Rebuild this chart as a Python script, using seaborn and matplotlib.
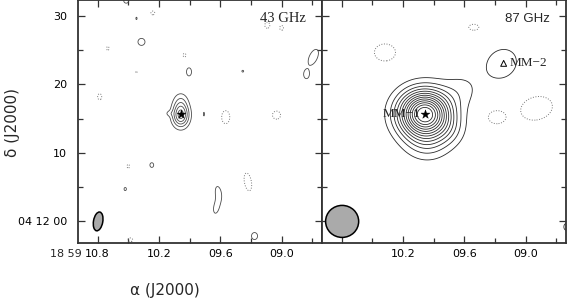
import numpy as np
import pandas as pd
import matplotlib
matplotlib.use("Agg")
import matplotlib.pyplot as plt
import seaborn as sns
from matplotlib.patches import Ellipse
from matplotlib.transforms import Affine2D

# ---------------- axis ticks / labels ----------------
ra_ticks = [10.8, 10.2, 9.6, 9.0]
ra_minor = [10.5, 9.9, 9.3, 8.7]
ra_labels_left = ["10.8", "10.2", "09.6", "09.0"]
ra_labels_right = ["", "10.2", "09.6", "09.0"]
ra_prefix = "18 59"
dec_ticks = [0, 10, 20, 30]
dec_minor = [5, 15, 25]
dec_labels = ["04 12 00", "10", "20", "30"]
ra_lim = (10.992, 8.605)
dec_lim = (-3.27, 32.4)

# ---------------- sources / markers ----------------
mm_names = ["MM\u22121", "MM\u22122"]
mm_ra = [9.987, 9.215]
mm_dec = [15.7, 23.1]
mm_marker = ["*", "^"]

panel_titles = ["43 GHz", "87 GHz"]

# 43 GHz emission components: RA (s), Dec offset ("), amplitude (contour units), sigma_u ("), sigma_v ("), pa (deg)
c43_ra  = [9.987, 9.987, 10.104, 10.371, 9.906, 8.69, 8.757, 10.52, 9.38, 9.76, 10.27, 10.53, 9.62, 9.64, 9.265, 10.42,
           10.78, 10.70, 10.42, 9.95, 10.26, 9.14, 9.00, 9.547, 9.05, 10.50, 10.48, 9.33]
c43_dec = [15.5, 17.6, 15.75, 26.25, 21.85, 24.0, 21.4, 32.3, 21.95, 15.65, 8.17, 4.65, 4.2, 1.9, -2.25, 29.7,
           18.2, 25.3, 21.85, 24.3, 30.5, 28.7, 28.3, 15.2, 15.5, 8.0, -2.8, 5.7]
c43_amp = [5.4, 1.4, 0.8, 1.35, 1.35, 1.35, 1.35, 1.35, 1.1, 1.15, 1.3, 1.2, 1.3, 1.3, 1.35, 1.1,
           -1.35, -1.2, -1.1, -1.3, -1.3, -1.35, -1.3, -1.35, -1.35, -1.2, -1.3, -1.35]
c43_su  = [0.85, 0.8, 0.45, 0.66, 0.47, 0.76, 0.38, 0.47, 0.3, 0.15, 0.38, 0.28, 0.5, 0.5, 0.57, 0.2,
           0.38, 0.28, 0.2, 0.28, 0.38, 0.47, 0.38, 0.76, 0.76, 0.28, 0.47, 0.66]
c43_sv  = [1.2, 1.0, 0.3, 0.66, 0.76, 1.6, 0.57, 0.47, 0.3, 0.5, 0.47, 0.38, 1.1, 1.1, 0.66, 0.4,
           0.57, 0.47, 0.28, 0.38, 0.38, 0.57, 0.47, 1.23, 0.76, 0.47, 0.38, 1.7]
c43_pa  = [0, 0, 0, 0, 0, -25, 0, 0, 0, 0, 0, 0, 10, -10, 0, 0,
           0, 0, 0, 0, 0, 0, 0, 0, 0, 0, 0, 10]
lev43 = [1, 2, 3, 4, 5]

# 87 GHz emission components
c87_ra  = [9.987, 9.96, 9.74, 9.62, 9.234, 8.60, 10.376, 9.507, 8.893, 9.283]
c87_dec = [15.7, 11.6, 13.2, 19.3, 23.05, -0.9, 24.7, 28.4, 16.5, 15.2]
c87_amp = [14.0, 2.0, 1.0, 1.1, 1.7, 1.35, -2.0, -2.0, -2.0, -2.0]
c87_su  = [2.55, 2.3, 1.6, 2.0, 2.2, 0.5, 1.31, 0.62, 2.0, 1.06]
c87_sv  = [2.3, 2.0, 1.6, 1.9, 1.9, 0.66, 1.06, 0.37, 1.43, 0.81]
c87_pa  = [0, 0, 0, 0, 40, 0, 0, 0, 15, 0]
lev87 = list(range(1, 14))

# beams: major/minor in arcsec, pa
beam_w = [1.36, 4.84]
beam_h = [2.79, 4.70]
beam_pa = [10, 0]
beam_ra = 10.795
beam_dec = -0.1

KX = 15 * np.cos(np.deg2rad(4.2))  # arcsec per second of RA


def make_field(X, Y, ra, dec, amp, su, sv, pa):
    Z = np.zeros_like(X)
    for r, d, a, s1, s2, p in zip(ra, dec, amp, su, sv, pa):
        du = (r - X) * KX
        dv = Y - d
        t = np.deg2rad(p)
        u = du * np.cos(t) + dv * np.sin(t)
        v = -du * np.sin(t) + dv * np.cos(t)
        Z += a * np.exp(-0.5 * ((u / s1) ** 2 + (v / s2) ** 2))
    return Z


sns.set_theme(style="ticks")
plt.rcParams["font.family"] = ["DejaVu Sans"]

xs = np.linspace(8.55, 11.05, 700)
ys = np.linspace(-4.0, 33.0, 700)
X, Y = np.meshgrid(xs, ys)

fig = plt.figure(figsize=(5.67, 3.0), dpi=100)
W, H = 567.0, 300.0
axL = fig.add_axes([78 / W, (H - 243) / H, 244 / W, 243 / H])
axR = fig.add_axes([322 / W, (H - 243) / H, 244 / W, 243 / H])

fields = [make_field(X, Y, c43_ra, c43_dec, c43_amp, c43_su, c43_sv, c43_pa),
          make_field(X, Y, c87_ra, c87_dec, c87_amp, c87_su, c87_sv, c87_pa)]
levels = [lev43, lev87]
pos_col = ["#4a4a4a", "#2a2a2a"]

markers = pd.DataFrame({"ra": mm_ra, "dec": mm_dec, "name": mm_names, "m": mm_marker})

for i, ax in enumerate([axL, axR]):
    Z = fields[i]
    ax.contour(X, Y, Z, levels=levels[i], colors=pos_col[i], linewidths=0.6, linestyles="solid")
    ax.contour(X, Y, Z, levels=[-1], colors="#777777", linewidths=0.7, linestyles=":")

    # beam
    tr = Affine2D().scale(1.0 / KX, 1.0) + ax.transData
    ax.add_patch(Ellipse((beam_ra * KX, beam_dec), beam_w[i], beam_h[i], angle=beam_pa[i],
                         facecolor="#aaaaaa", edgecolor="black", lw=1.1, transform=tr, zorder=3))

    ax.set_xlim(*ra_lim)
    ax.set_ylim(*dec_lim)
    ax.set_xticks(ra_ticks)
    ax.set_xticks(ra_minor, minor=True)
    ax.set_yticks(dec_ticks)
    ax.set_yticks(dec_minor, minor=True)
    ax.tick_params(which="both", direction="in", top=True, right=True, bottom=True, left=True,
                   color="#333333", width=0.9, labelsize=8, labelcolor="black")
    ax.tick_params(which="major", length=5)
    ax.tick_params(which="minor", length=3.5)
    ax.tick_params(axis="x", pad=4)
    ax.tick_params(axis="y", pad=8)
    for s in ax.spines.values():
        s.set_color("#333333")
        s.set_linewidth(1.3)
    ax.text(0.934, 0.922, panel_titles[i], transform=ax.transAxes, ha="right", va="center",
            fontsize=(10.5 if i == 0 else 9.5),
            family=(["Liberation Serif", "DejaVu Serif"] if i == 0 else ["Liberation Sans", "DejaVu Sans"]))

axL.set_xticklabels(ra_labels_left)
axL.set_yticklabels(dec_labels)
axR.set_xticklabels(ra_labels_right)
axR.set_yticklabels([])
axL.annotate(ra_prefix, xy=(ra_ticks[0], 0), xycoords=("data", "axes fraction"),
             xytext=(-11.5, -4), textcoords="offset points", ha="right", va="top", fontsize=8)

# markers
sns.scatterplot(data=markers.iloc[[0]], x="ra", y="dec", marker="*", s=45, color="black",
                edgecolor="black", linewidth=0.3, ax=axL, legend=False, zorder=5)
sns.scatterplot(data=markers.iloc[[0]], x="ra", y="dec", marker="*", s=45, color="black",
                edgecolor="black", linewidth=0.3, ax=axR, legend=False, zorder=5)
sns.scatterplot(data=markers.iloc[[1]], x="ra", y="dec", marker="^", s=18, facecolor="none",
                edgecolor="black", linewidth=0.7, ax=axR, legend=False, zorder=5)
for ax in [axL, axR]:
    ax.set_xlabel("")
    ax.set_ylabel("")

serif = ["Liberation Serif", "DejaVu Serif"]
axR.text(10.034, mm_dec[0], mm_names[0], ha="right", va="center", fontsize=9.5, family=serif, zorder=6)
axR.text(9.156, mm_dec[1], mm_names[1], ha="left", va="center", fontsize=9.5, family=serif, zorder=6)

fig.text(165 / W, 1 - 291 / H, "\u03b1 (J2000)", ha="center", va="center", fontsize=11)
fig.text(13 / W, 1 - 122 / H, "\u03b4 (J2000)", ha="center", va="center", fontsize=11, rotation=90)

fig.savefig("out.png", dpi=100, facecolor="white")
